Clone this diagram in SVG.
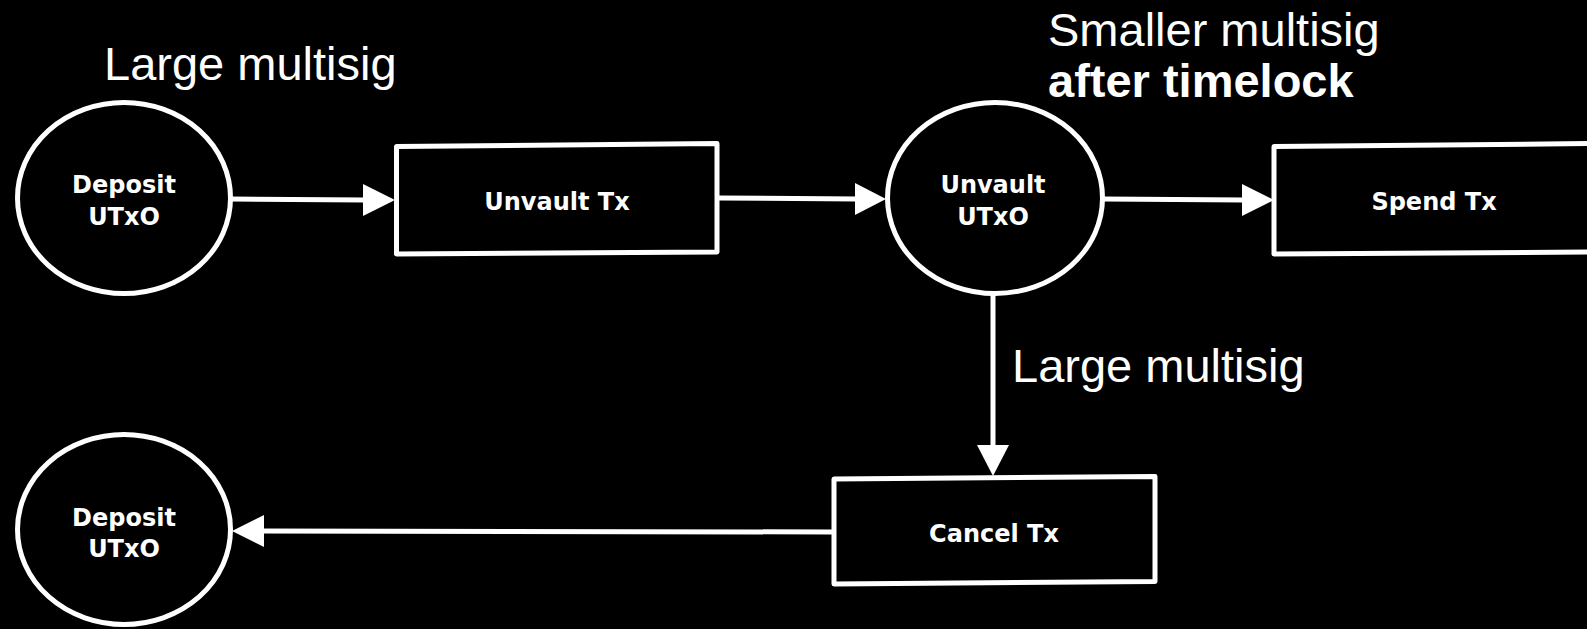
<svg xmlns="http://www.w3.org/2000/svg" width="1587" height="629" viewBox="0 0 1587 629">
<style>
.bg{fill:#000}
.shape{fill:#000;stroke:#fff;stroke-width:5;stroke-linejoin:round}
.lbl{font-family:"DejaVu Sans","Open Sans",sans-serif;font-weight:bold;font-size:24px;fill:#fff;text-anchor:middle}
.note{font-family:"Liberation Sans",Arial,sans-serif;font-size:47px;fill:#fff}
.edge{stroke:#fff;stroke-width:5;fill:none}
.head{fill:#fff;stroke:none}
</style>
<rect class="bg" x="0" y="0" width="1587" height="629"/>
<g id="connectors">
  <line class="edge" x1="231" y1="199" x2="366" y2="200"/>
  <polygon class="head" points="395,200 363,184 363,216"/>
  <line class="edge" x1="719" y1="198" x2="858" y2="199"/>
  <polygon class="head" points="886,199 855,183 855,215"/>
  <line class="edge" x1="1103" y1="199" x2="1245" y2="200"/>
  <polygon class="head" points="1274,200 1242,184 1242,216"/>
  <line class="edge" x1="993" y1="294" x2="993" y2="448"/>
  <polygon class="head" points="993,476 977,445 1009,445"/>
  <line class="edge" x1="834" y1="532" x2="260" y2="531"/>
  <polygon class="head" points="232,531 264,515 264,547"/>
</g>
<g id="deposit-utxo-top">
  <ellipse class="shape" cx="124" cy="198" rx="106.5" ry="95.5"/>
  <text class="lbl" x="124" y="193">Deposit</text>
  <text class="lbl" x="124" y="225">UTxO</text>
</g>
<g id="unvault-tx">
  <polygon class="shape" points="396.5,146.5 717,143.5 717,252 396.5,254"/>
  <text class="lbl" x="557" y="210">Unvault Tx</text>
</g>
<g id="unvault-utxo">
  <ellipse class="shape" cx="995" cy="198" rx="107.5" ry="95.5"/>
  <text class="lbl" x="993" y="193">Unvault</text>
  <text class="lbl" x="993" y="225">UTxO</text>
</g>
<g id="spend-tx">
  <polygon class="shape" points="1274,146.5 1600,143.5 1600,252 1274,254"/>
  <text class="lbl" x="1434" y="210">Spend Tx</text>
</g>
<g id="cancel-tx">
  <polygon class="shape" points="834,479 1155,476.5 1155,581.5 834,584"/>
  <text class="lbl" x="994" y="542">Cancel Tx</text>
</g>
<g id="deposit-utxo-bottom">
  <ellipse class="shape" cx="124" cy="529.5" rx="106.5" ry="95"/>
  <text class="lbl" x="124" y="526">Deposit</text>
  <text class="lbl" x="124" y="557">UTxO</text>
</g>
<g id="notes">
  <text class="note" x="104" y="80">Large multisig</text>
  <text class="note" x="1048" y="46">Smaller multisig</text>
  <text class="note" x="1048" y="97" font-weight="bold">after timelock</text>
  <text class="note" x="1012" y="382">Large multisig</text>
</g>
</svg>
